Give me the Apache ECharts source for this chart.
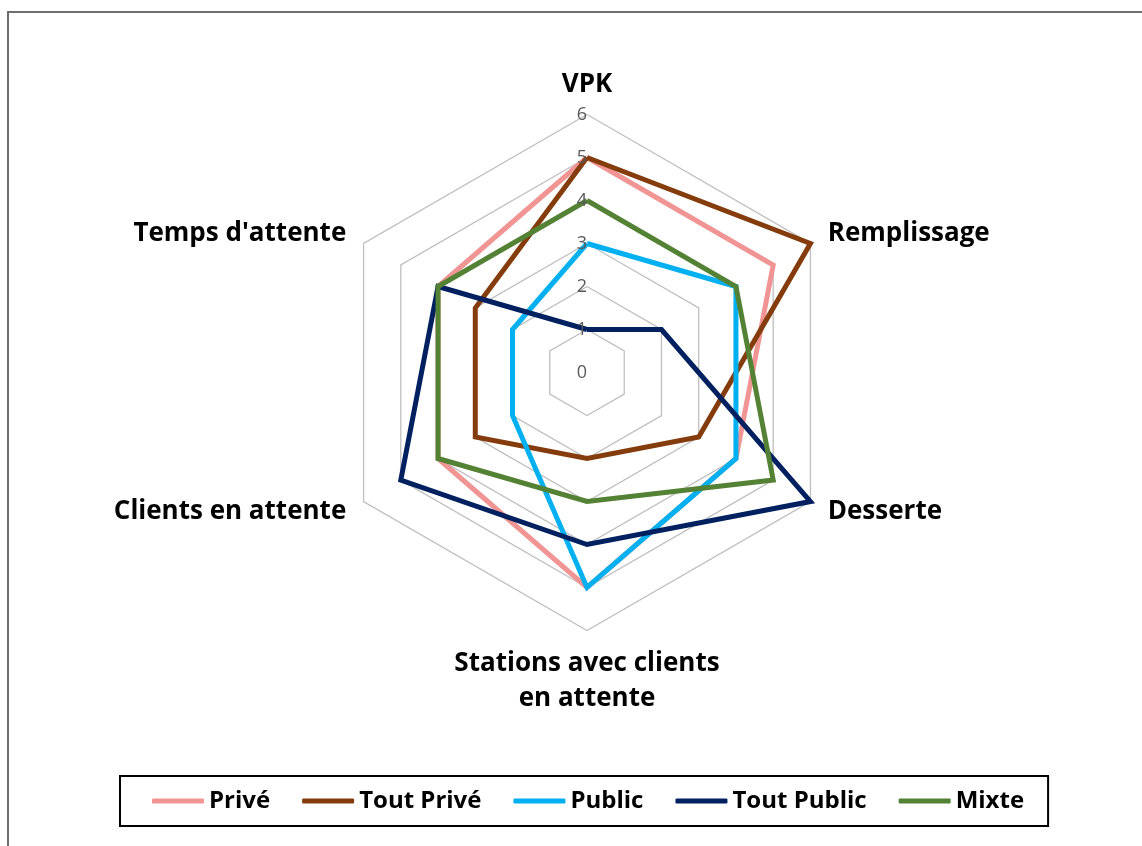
<!DOCTYPE html>
<html>
<head>
<meta charset="utf-8">
<script src="https://cdn.jsdelivr.net/npm/echarts@6/dist/echarts.min.js"></script>
<style>
  html, body { margin: 0; padding: 0; background: #fff; }
  #frame { position: absolute; left: 7px; top: 11px; width: 1135px; height: 835px;
           border-top: 2px solid #6f6f6f; border-left: 2px solid #6f6f6f; box-sizing: border-box; }
  #chart { position: absolute; left: 0; top: 0; width: 1142px; height: 846px; }
</style>
</head>
<body>
<div id="frame"></div>
<div id="chart"></div>
<script>
// Indicator order (ECharts places indicators counter-clockwise from the top)
const categories = ['VPK', "Temps d'attente", 'Clients en attente', 'Stations avec clients\nen attente', 'Desserte', 'Remplissage'];
const tickLabels = ['0', '1', '2', '3', '4', '5', '6'];
const seriesNames = ['Privé', 'Tout Privé', 'Public', 'Tout Public', 'Mixte'];
const prive      = [5, 4, 4, 5, 4, 5];
const toutPrive  = [5, 3, 3, 2, 3, 6];
const publicV    = [3, 2, 2, 5, 4, 4];
const toutPublic = [1, 4, 5, 4, 6, 2];
const mixte      = [4, 4, 4, 3, 5, 4];
const seriesValues = [prive, toutPrive, publicV, toutPublic, mixte];
const colors = ['#F09593', '#843C0C', '#00B0F0', '#002060', '#548235'];
const nameGaps = [12, 20, 20, 16, 20, 20];

const chart = echarts.init(document.getElementById('chart'), null, { renderer: 'canvas' });
const FONT = "'Open Sans', 'Noto Sans', sans-serif";
const CX = 587, CY = 372.5, R = 258;

chart.setOption({
  backgroundColor: 'transparent',
  animation: false,
  color: colors,
  legend: {
    data: seriesNames,
    left: 120,
    top: 776,
    orient: 'horizontal',
    padding: [13, 24, 13, 32],
    itemGap: 32,
    itemWidth: 52,
    itemHeight: 5,
    icon: 'roundRect',
    borderColor: '#000',
    borderWidth: 2,
    textStyle: { fontFamily: FONT, fontWeight: 'bold', fontSize: 24, color: '#000' }
  },
  radar: {
    center: [CX, CY],
    radius: R,
    startAngle: 90,
    shape: 'polygon',
    splitNumber: 6,
    nameGap: 20,
    indicator: categories.map((n, i) => ({ name: n, min: 0, max: 6, nameGap: nameGaps[i] })),
    axisName: { fontFamily: FONT, fontWeight: 'bold', fontSize: 26, color: '#000', lineHeight: 35 },
    axisLine: { show: false },
    axisTick: { show: false },
    axisLabel: { show: false },
    splitArea: { show: false },
    splitLine: { lineStyle: { color: '#BFBFBF', width: 1.3 } }
  },
  polar: { center: [CX, CY], radius: R },
  angleAxis: { show: false, startAngle: 90, min: 0, max: 360 },
  radiusAxis: {
    min: 0, max: 6, interval: 1,
    axisLine: { show: false },
    axisTick: { show: false },
    splitLine: { show: false },
    z: 10,
    axisLabel: {
      margin: 0,
      color: '#595959', fontSize: 18, fontFamily: FONT,
      formatter: (v) => tickLabels[Math.round(v)]
    }
  },
  series: [{
    type: 'radar',
    symbol: 'none',
    data: seriesNames.map((n, i) => ({
      name: n,
      value: seriesValues[i],
      lineStyle: { color: colors[i], width: 5, join: 'miter' },
      itemStyle: { color: colors[i] }
    }))
  }]
});
</script>
</body>
</html>
